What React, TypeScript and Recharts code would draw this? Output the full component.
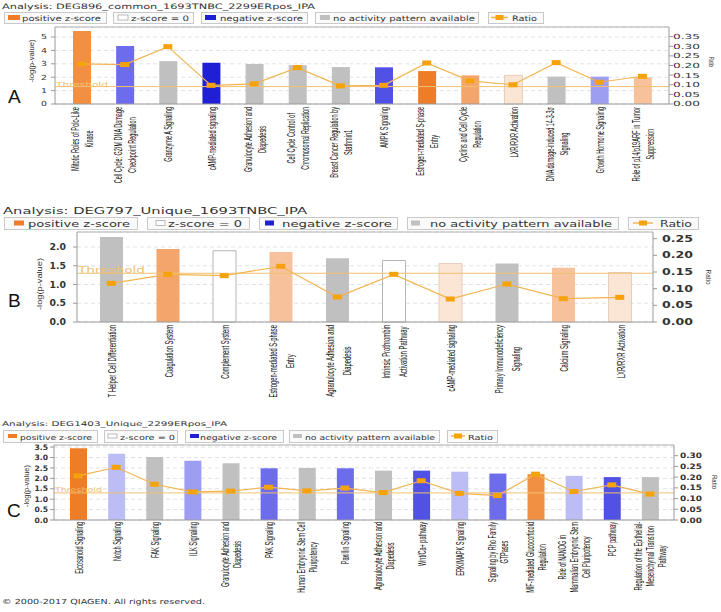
import React from "react";
import { ComposedChart, Bar, Line, XAxis, YAxis, CartesianGrid, ReferenceLine, Cell } from "recharts";

// ---- panel A: DEG896_common_1693TNBC_2299ERpos_IPA
const namesA = [
  "Mitotic Roles of Polo-Like\nKinase",
  "Cell Cycle: G2/M DNA Damage\nCheckpoint Regulation",
  "Granzyme A Signaling",
  "cAMP-mediated signaling",
  "Granulocyte Adhesion and\nDiapedesis",
  "Cell Cycle Control of\nChromosomal Replication",
  "Breast Cancer Regulation by\nStathmin1",
  "AMPK Signaling",
  "Estrogen-mediated S-phase\nEntry",
  "Cyclins and Cell Cycle\nRegulation",
  "LXR/RXR Activation",
  "DNA damage-induced 14-3-3σ\nSignaling",
  "Growth Hormone Signaling",
  "Role of p14/p19ARF in Tumor\nSuppression",
];
const logpA = [5.45, 4.33, 3.2, 3.08, 2.98, 2.9, 2.76, 2.74, 2.46, 2.14, 2.14, 2.04, 2.04, 2.0];
const ratioA = [0.208, 0.205, 0.298, 0.097, 0.105, 0.189, 0.094, 0.097, 0.213, 0.12, 0.1, 0.215, 0.113, 0.144];
const zA = ["pos2", "neg3", "none", "neg1", "none", "none", "none", "neg2", "pos1", "pos3", "pos5", "none", "neg4", "pos4"];
const leftTicksA = [0, 1, 2, 3, 4, 5];
const rightTicksA = [0, 0.05, 0.1, 0.15, 0.2, 0.25, 0.3, 0.35];

// ---- panel B: DEG797_Unique_1693TNBC_IPA
const namesB = [
  "T Helper Cell Differentiation",
  "Coagulation System",
  "Complement System",
  "Estrogen-mediated S-phase\nEntry",
  "Agranulocyte Adhesion and\nDiapedesis",
  "Intrinsic Prothrombin\nActivation Pathway",
  "cAMP-mediated signaling",
  "Primary Immunodeficiency\nSignaling",
  "Calcium Signaling",
  "LXR/RXR Activation",
];
const logpB = [2.27, 1.95, 1.9, 1.87, 1.7, 1.64, 1.56, 1.56, 1.45, 1.32];
const ratioB = [0.116, 0.143, 0.139, 0.167, 0.075, 0.143, 0.069, 0.114, 0.07, 0.074];
const zB = ["none", "pos3", "zero", "pos4", "none", "zero", "pos5", "none", "pos4", "pos5"];
const leftTicksB = [0, 0.5, 1, 1.5, 2];
const rightTicksB = [0, 0.05, 0.1, 0.15, 0.2, 0.25];

// ---- panel C: DEG1403_Unique_2299ERpos_IPA
const namesC = [
  "Eicosanoid Signaling",
  "Notch Signaling",
  "FAK Signaling",
  "ILK Signaling",
  "Granulocyte Adhesion and\nDiapedesis",
  "PAK Signaling",
  "Human Embryonic Stem Cell\nPluripotency",
  "Paxillin Signaling",
  "Agranulocyte Adhesion and\nDiapedesis",
  "Wnt/Ca+ pathway",
  "ERK/MAPK Signaling",
  "Signaling by Rho Family\nGTPases",
  "MIF-mediated Glucocorticoid\nRegulation",
  "Role of NANOG in\nMammalian Embryonic Stem\nCell Pluripotency",
  "PCP pathway",
  "Regulation of the Epithelial-\nMesenchymal Transition\nPathway",
];
const logpC = [3.44, 3.18, 3.03, 2.85, 2.72, 2.49, 2.5, 2.49, 2.37, 2.37, 2.32, 2.23, 2.2, 2.12, 2.06, 2.06];
const ratioC = [0.206, 0.246, 0.167, 0.131, 0.135, 0.153, 0.136, 0.149, 0.128, 0.183, 0.124, 0.114, 0.214, 0.133, 0.164, 0.121];
const zC = ["pos1", "neg5", "none", "neg4", "none", "neg3", "none", "neg3", "none", "neg2", "neg5", "neg3", "pos2", "neg5", "neg2", "none"];
const leftTicksC = [0, 0.5, 1, 1.5, 2, 2.5, 3, 3.5];
const rightTicksC = [0, 0.05, 0.1, 0.15, 0.2, 0.25, 0.3];

const threshold = 1.3;
const titles = [
  "Analysis: DEG896_common_1693TNBC_2299ERpos_IPA",
  "Analysis: DEG797_Unique_1693TNBC_IPA",
  "Analysis: DEG1403_Unique_2299ERpos_IPA",
];
const legendLabels = ["positive z-score", "z-score = 0", "negative z-score", "no activity pattern available", "Ratio"];
const legendKinds = ["pos1", "zero", "neg1", "none", "ratio"];

const zColors: Record<string, string> = {
  pos1: "#ee7d26",
  pos2: "#f19043",
  pos3: "#f4a56b",
  pos4: "#f7c29b",
  pos5: "#fbe5d5",
  zero: "#ffffff",
  neg1: "#1f1fd4",
  neg2: "#5151e6",
  neg3: "#6d6deb",
  neg4: "#9d9df1",
  neg5: "#bdbdf5",
  none: "#c0c0c0",
};
const barStroke = (z: string) => (z === "zero" ? "#b5b5b5" : z === "pos5" ? "#e6cdbd" : "none");

const LINE = "#f3b450";
const MARK = "#f6a20c";
const THR = "#f2c070";

const rows = (names: string[], logp: number[], ratio: number[], z: string[]) =>
  names.map((name, i) => ({ name, logp: logp[i], ratio: ratio[i], z: z[i] }));

// rough Arial-like advance widths in em, used to size the condensed category labels
const charEm = (c: string) => {
  if ("il.,:;|!'".includes(c)) return 0.23;
  if ("jtfrI -/()[]".includes(c)) return 0.31;
  if ("mw".includes(c)) return 0.8;
  if ("MW".includes(c)) return 0.86;
  if (c >= "A" && c <= "Z") return 0.69;
  if ("sczyvkx".includes(c)) return 0.5;
  return 0.556;
};
const emWidth = (s: string) => s.split("").reduce((a, c) => a + charEm(c), 0);

const XTick = (props: any) => {
  const { x, y, payload, cfg } = props;
  const lines = String(payload.value).split("\n");
  const lens = lines.map((l) => emWidth(l) * cfg.pxEm);
  const maxLen = Math.max(...lens);
  const n = lines.length;
  return (
    <g transform={`translate(${x},${y}) rotate(-90)`}>
      {lines.map((l, i) => (
        <text
          key={i}
          x={-(cfg.gap + maxLen / 2)}
          y={(i - (n - 1) / 2) * cfg.lineGap + cfg.shift}
          dy="0.35em"
          textAnchor="middle"
          fontSize={cfg.fs}
          textLength={lens[i]}
          lengthAdjust="spacingAndGlyphs"
          fontFamily="Liberation Sans, Arial, sans-serif"
          fill="#111"
        >
          {l}
        </text>
      ))}
    </g>
  );
};

const YTick = (props: any) => {
  const { x, y, payload, side, digits, fs, weight, perChar } = props;
  const s = Number(payload.value).toFixed(digits);
  return (
    <text
      x={x}
      y={y}
      dy="0.35em"
      textAnchor={side === "left" ? "end" : "start"}
      fontSize={fs}
      fontWeight={weight}
      fontFamily="DejaVu Sans, sans-serif"
      fill="#333"
      textLength={s.length * perChar}
      lengthAdjust="spacingAndGlyphs"
    >
      {s}
    </text>
  );
};

const ThresholdLabel = (props: any) => {
  const { viewBox, w, fs, dy } = props;
  if (!viewBox) return null;
  return (
    <text x={viewBox.x + 1} y={viewBox.y + dy} fontSize={fs} fill={THR} textLength={w} lengthAdjust="spacingAndGlyphs" fontFamily="DejaVu Sans, sans-serif">
      Threshold
    </text>
  );
};

const RatioDot = (props: any) => {
  const { cx, cy } = props;
  if (cx == null || cy == null) return null;
  return <rect x={cx - 4.5} y={cy - 2.5} width={9} height={5} fill={MARK} />;
};

const Panel = ({ p }: { p: any }) => (
  <div style={{ position: "absolute", left: 0, top: p.top, width: 721, height: p.height }}>
    <ComposedChart width={721} height={p.height} data={p.data} margin={p.margin}>
      <CartesianGrid yAxisId="left" vertical={false} strokeDasharray="4 3" stroke="#e2e2e2" />
      <XAxis
        dataKey="name"
        interval={0}
        height={p.xH}
        padding={p.pad}
        tickSize={0}
        tickMargin={0}
        stroke="#9a9a9a"
        tick={(t: any) => <XTick {...t} cfg={p.xTick} />}
      />
      <YAxis
        yAxisId="left"
        width={p.leftW}
        domain={p.leftDomain}
        ticks={p.leftTicks}
        interval={0}
        tickSize={4}
        tickMargin={p.yTick.lm}
        stroke="#9a9a9a"
        tick={(t: any) => <YTick {...t} side="left" digits={p.leftDigits} fs={p.yTick.fs} weight={p.yTick.weight} perChar={p.yTick.lc} />}
      />
      <YAxis
        yAxisId="right"
        orientation="right"
        width={p.rightW}
        domain={p.rightDomain}
        ticks={p.rightTicks}
        interval={0}
        tickSize={4}
        tickMargin={p.yTick.rm}
        stroke="#9a9a9a"
        tick={(t: any) => <YTick {...t} side="right" digits={2} fs={p.yTick.fs} weight={p.yTick.weight} perChar={p.yTick.rc} />}
      />
      <ReferenceLine yAxisId="left" y={p.leftDomain[1]} stroke="#b0b0b0" />
      <Bar yAxisId="left" dataKey="logp" barSize={p.barSize} isAnimationActive={false}>
        {p.data.map((d: any, i: number) => (
          <Cell key={i} fill={zColors[d.z]} stroke={barStroke(d.z)} strokeWidth={1} />
        ))}
      </Bar>
      <ReferenceLine
        yAxisId="left"
        y={threshold}
        stroke={THR}
        strokeWidth={1}
        label={<ThresholdLabel w={p.thr.w} fs={p.thr.fs} dy={p.thr.dy} />}
      />
      <Line
        yAxisId="right"
        dataKey="ratio"
        type="linear"
        stroke={LINE}
        strokeWidth={1.2}
        dot={<RatioDot />}
        activeDot={false}
        isAnimationActive={false}
      />
    </ComposedChart>
  </div>
);

const panels = [
  {
    top: 0,
    height: 195,
    data: rows(namesA, logpA, ratioA, zA),
    margin: { top: 27, right: 0, bottom: 1, left: 0 },
    leftW: 55,
    rightW: 52,
    xH: 90,
    pad: { left: 5, right: 5 },
    leftDomain: [0, 5.75],
    rightDomain: [0, 0.4],
    leftTicks: leftTicksA,
    rightTicks: rightTicksA,
    leftDigits: 0,
    barSize: 18,
    xTick: { fs: 10, pxEm: 5.5, gap: 3, lineGap: 14, shift: 1 },
    yTick: { fs: 7, weight: 400, lc: 6, rc: 6.75, lm: 4, rm: 0 },
    thr: { w: 52, fs: 7, dy: 0.5 },
  },
  {
    top: 195,
    height: 215,
    data: rows(namesB, logpB, ratioB, zB),
    margin: { top: 37, right: 0, bottom: 1, left: 0 },
    leftW: 77,
    rightW: 68,
    xH: 87,
    pad: { left: 6, right: 5 },
    leftDomain: [0, 2.4],
    rightDomain: [0, 0.27],
    leftTicks: leftTicksB,
    rightTicks: rightTicksB,
    leftDigits: 1,
    barSize: 23,
    xTick: { fs: 11, pxEm: 5.8, gap: 3, lineGap: 17, shift: 1 },
    yTick: { fs: 9, weight: 700, lc: 5.5, rc: 7.75, lm: 7, rm: 5 },
    thr: { w: 67, fs: 8, dy: -0.5 },
  },
  {
    top: 410,
    height: 202,
    data: rows(namesC, logpC, ratioC, zC),
    margin: { top: 35, right: 0, bottom: 2, left: 0 },
    leftW: 54,
    rightW: 47,
    xH: 90,
    pad: { left: 5, right: 5 },
    leftDomain: [0, 3.6],
    rightDomain: [0, 0.35],
    leftTicks: leftTicksC,
    rightTicks: rightTicksC,
    leftDigits: 1,
    barSize: 17,
    xTick: { fs: 10, pxEm: 5.5, gap: 2, lineGap: 12, shift: 1 },
    yTick: { fs: 7.5, weight: 700, lc: 4.5, rc: 5.5, lm: 2, rm: 2 },
    thr: { w: 47, fs: 6.5, dy: -0.5 },
  },
];

// legend layouts: [boxX, boxW, swatchX, swatchW, textX, textW]
const legendLayouts = [
  { y: 12, h: 11, swY: 15, swH: 5, base: 20.5, fs: 7.5, items: [[4, 102, 8, 12, 22, 79], [113, 80, 118, 10, 131, 58], [201, 106, 205, 11, 220, 83], [315, 163, 320, 10, 333, 142], [488, 55, 491, 17, 512, 25]] },
  { y: 217, h: 12, swY: 220.5, swH: 5, base: 226.5, fs: 8.5, items: [[4, 133, 14, 10, 28, 102], [147, 102, 156, 9, 168, 74], [259, 138, 265, 9, 282, 110], [407, 211, 411, 9, 430, 182], [628, 70, 633, 20, 660, 32]] },
  { y: 430, h: 12, swY: 434, swH: 4, base: 439.5, fs: 7, items: [[3, 94, 8, 9, 20, 72], [104, 73, 108, 9, 120, 55], [185, 98, 190, 9, 200, 77], [289, 150, 293, 9, 305, 130], [447, 50, 451, 14, 468, 25]] },
];
const titleLayouts = [
  { x: 2, y: 8.5, w: 313, fs: 7.5 },
  { x: 3, y: 213.5, w: 304, fs: 8 },
  { x: 2, y: 426, w: 225, fs: 6.5 },
];
const panelLetters = [
  { t: "A", x: 8, y: 103 },
  { t: "B", x: 8, y: 307 },
  { t: "C", x: 7, y: 517 },
];
const yTitles = [
  { cx: 31, cy: 61, w: 43, rcx: 711, rcy: 62, rw: 10 },
  { cx: 39, cy: 284, w: 52, rcx: 708, rcy: 277, rw: 15 },
  { cx: 26, cy: 486, w: 42, rcx: 714, rcy: 482, rw: 14 },
];

const Overlay = () => (
  <svg width={721} height={612} style={{ position: "absolute", left: 0, top: 0, pointerEvents: "none" }}>
    {titleLayouts.map((t, i) => (
      <text key={"t" + i} x={t.x} y={t.y} fontSize={t.fs} textLength={t.w} lengthAdjust="spacingAndGlyphs" fontFamily="DejaVu Sans, sans-serif" fill="#333">
        {titles[i]}
      </text>
    ))}
    {legendLayouts.map((L, li) => (
      <g key={"l" + li}>
        {L.items.map((it, k) => {
          const [bx, bw, sx, sw, tx, tw] = it;
          const kind = legendKinds[k];
          const cy = L.swY + L.swH / 2;
          return (
            <g key={k}>
              <rect x={bx + 0.5} y={L.y + 0.5} width={bw} height={L.h} fill="#fafafa" stroke="#c9c9c9" />
              {kind === "ratio" ? (
                <g>
                  <line x1={sx} x2={sx + sw} y1={cy} y2={cy} stroke={LINE} strokeWidth={1.5} />
                  <rect x={sx + sw / 2 - 4} y={cy - 2.5} width={8} height={5} fill={MARK} />
                </g>
              ) : (
                <rect x={sx} y={L.swY} width={sw} height={L.swH} fill={zColors[kind]} stroke={kind === "zero" ? "#aaa" : "none"} strokeWidth={0.8} />
              )}
              <text x={tx} y={L.base} fontSize={L.fs} textLength={tw} lengthAdjust="spacingAndGlyphs" fontFamily="DejaVu Sans, sans-serif" fill="#333">
                {legendLabels[k]}
              </text>
            </g>
          );
        })}
      </g>
    ))}
    {panelLetters.map((l) => (
      <text key={l.t} x={l.x} y={l.y} fontSize={19} fontFamily="Liberation Sans, Arial, sans-serif" fill="#111">
        {l.t}
      </text>
    ))}
    {yTitles.map((y, i) => (
      <g key={"y" + i}>
        <text
          transform={`translate(${y.cx},${y.cy}) rotate(-90)`}
          textAnchor="middle"
          dy="0.35em"
          fontSize={8}
          textLength={y.w}
          lengthAdjust="spacingAndGlyphs"
          fontFamily="Liberation Sans, Arial, sans-serif"
          fill="#333"
        >
          -log(p-value)
        </text>
        <text
          transform={`translate(${y.rcx},${y.rcy}) rotate(90)`}
          textAnchor="middle"
          dy="0.35em"
          fontSize={7}
          textLength={y.rw}
          lengthAdjust="spacingAndGlyphs"
          fontFamily="Liberation Sans, Arial, sans-serif"
          fill="#333"
        >
          Ratio
        </text>
      </g>
    ))}
    <text x={2} y={604} fontSize={7} textLength={203} lengthAdjust="spacingAndGlyphs" fontFamily="DejaVu Sans, sans-serif" fill="#333">
      © 2000-2017 QIAGEN. All rights reserved.
    </text>
  </svg>
);

export default function App() {
  return (
    <div style={{ position: "absolute", left: 0, top: 0, width: 721, height: 612, background: "#fff", overflow: "hidden" }}>
      {panels.map((p, i) => (
        <Panel key={i} p={p} />
      ))}
      <Overlay />
    </div>
  );
}
